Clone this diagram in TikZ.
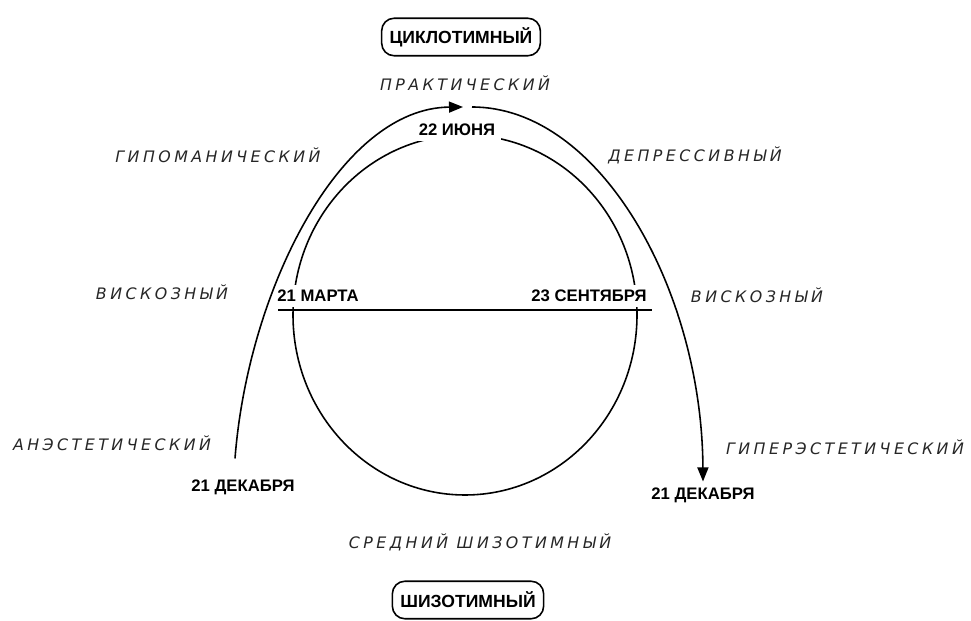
\documentclass[tikz,border=0pt]{standalone}
\usepackage{fontspec}
\setmainfont{Liberation Sans}
\newfontfamily\spacedit[LetterSpace=22]{DejaVu Sans}
\usetikzlibrary{arrows.meta}

\begin{document}
\begin{tikzpicture}[x=0.02cm,y=-0.02cm,line width=0.9pt,>=Stealth,
  typebox/.style={draw,rounded corners=0.25cm,line width=0.9pt,
    font=\fontsize{10}{12}\selectfont\bfseries,inner xsep=0.16cm,minimum height=0.75cm},
  date/.style={font=\fontsize{9.5}{11}\selectfont\bfseries,fill=white,inner sep=3pt},
  trait/.style={font=\spacedit\fontsize{9}{11}\selectfont\itshape,text=black!85},
  tip/.style={-{Triangle[length=2.8mm,width=2.2mm]}}]
\useasboundingbox (0,0) rectangle (971,621);
% ---------- year circle ----------
\draw (465,315) ellipse [x radius=172,y radius=180];
\node[date] (june) at (457,130) {22 ИЮНЯ};
\node[date] (march) at (318,296) {21 МАРТА};
\node[date] (sept) at (589,296) {23 СЕНТЯБРЯ};
\draw (278,310) -- (652,310);
% ---------- types ----------
\node[typebox] (cyclo) at (461,37) {ЦИКЛОТИМНЫЙ};
\node[typebox] (schizo) at (468,600) {ШИЗОТИМНЫЙ};
% ---------- solstice arrows ----------
\node[date,fill=none] (decL) at (243,487) {21 ДЕКАБРЯ};
\node[date,fill=none] (decR) at (703,495) {21 ДЕКАБРЯ};
\coordinate (summer) at (467,107);
\draw[tip] ([shift={(-8,-15)}]decL.north) .. controls (248,290) and (340,108) .. ([xshift=-0.08cm]summer);
\draw[tip] ([xshift=0.1cm]summer) .. controls (600,107) and (702,290) .. (decR.north);
% ---------- temperaments ----------
\node[trait] (prakt) at (465,83) {ПРАКТИЧЕСКИЙ};
\node[trait] (hypoman) at (218,155) {ГИПОМАНИЧЕСКИЙ};
\node[trait] (depress) at (695,155) {ДЕПРЕССИВНЫЙ};
\node[trait] (viscL) at (162,292) {ВИСКОЗНЫЙ};
\node[trait] (viscR) at (757,295) {ВИСКОЗНЫЙ};
\node[trait] (anest) at (112,443) {АНЭСТЕТИЧЕСКИЙ};
\node[trait] (hyperest) at (845,447) {ГИПЕРЭСТЕТИЧЕСКИЙ};
\node[trait] (middle) at (480,542) {СРЕДНИЙ ШИЗОТИМНЫЙ};
\end{tikzpicture}
\end{document}
